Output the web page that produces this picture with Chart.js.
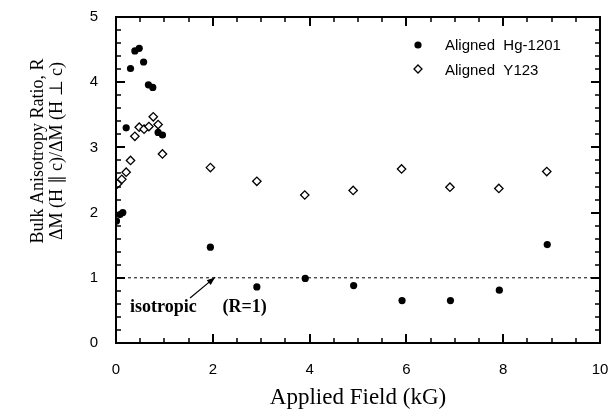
<!DOCTYPE html>
<html lang="en">
<head>
  <meta charset="UTF-8"/>
  <title>Bulk Anisotropy Ratio vs Applied Field</title>
  <script src="https://cdn.jsdelivr.net/npm/chart.js"></script>
  <style>
    * { box-sizing: border-box; margin: 0; padding: 0; }
    body { background: #fff; width: 611px; height: 409px; overflow: hidden; }
    #wrap { position: relative; width: 611px; height: 409px; }
  </style>
</head>
<body>
  <div id="wrap">
    <canvas id="chart" width="611" height="409"></canvas>
  </div>

  <script>
    // Aligned Hg-1201 (filled circles)
    const hgField = [0.01, 0.08, 0.14, 0.21, 0.30, 0.39, 0.48, 0.57, 0.67, 0.76, 0.87, 0.96, 1.95, 2.91, 3.91, 4.91, 5.91, 6.91, 7.92, 8.91];
    const hgRatio = [1.87, 1.97, 2.00, 3.30, 4.21, 4.48, 4.52, 4.31, 3.96, 3.92, 3.23, 3.19, 1.47, 0.86, 0.99, 0.88, 0.65, 0.65, 0.81, 1.51];

    // Aligned Y123 (open diamonds)
    const yField = [0.03, 0.12, 0.21, 0.30, 0.39, 0.48, 0.58, 0.68, 0.77, 0.87, 0.96, 1.95, 2.91, 3.90, 4.90, 5.90, 6.90, 7.91, 8.90];
    const yRatio = [2.44, 2.51, 2.62, 2.80, 3.17, 3.31, 3.28, 3.32, 3.47, 3.35, 2.90, 2.69, 2.48, 2.27, 2.34, 2.67, 2.39, 2.37, 2.63];

    // isotropic reference line
    const isoField = [0, 10];
    const isoRatio = [1, 1];

    const xTicks = [0, 2, 4, 6, 8, 10];
    const yTicks = [0, 1, 2, 3, 4, 5];
    const seriesNames = ['Aligned  Hg-1201', 'Aligned  Y123'];

    const toPoints = (xs, ys) => xs.map((x, i) => ({ x: x, y: ys[i] }));

    const sans = "'Liberation Sans', Arial, sans-serif";
    const serif = "'Liberation Serif', 'Times New Roman', serif";

    // frame + inward ticks on all four sides
    const frame = {
      id: 'frame',
      afterDatasetsDraw(chart) {
        const ctx = chart.ctx;
        const a = chart.chartArea;
        const xs = chart.scales.x, ys = chart.scales.y;
        const L = Math.round(a.left), R = Math.round(a.right);
        const T = Math.round(a.top), B = Math.round(a.bottom);
        ctx.save();
        ctx.setLineDash([]);
        ctx.fillStyle = '#000';
        for (let i = 0; i <= 20; i++) {
          const px = Math.round(xs.getPixelForValue(i * 0.5));
          const major = i % 4 === 0;
          const len = major ? 9 : 5, w = major ? 2 : 1.5;
          ctx.fillRect(px - w / 2, B - len, w, len);
          ctx.fillRect(px - w / 2, T, w, len);
        }
        for (let i = 0; i <= 25; i++) {
          const py = Math.round(ys.getPixelForValue(i * 0.2));
          const major = i % 5 === 0;
          const len = major ? 9 : 5, w = major ? 2 : 1.5;
          ctx.fillRect(L, py - w / 2, len, w);
          ctx.fillRect(R - len, py - w / 2, len, w);
        }
        ctx.fillRect(L - 1, T - 1, R - L + 2, 2);
        ctx.fillRect(L - 1, B - 1, R - L + 2, 2);
        ctx.fillRect(L - 1, T - 1, 2, B - T + 2);
        ctx.fillRect(R - 1, T - 1, 2, B - T + 2);
        ctx.restore();
      }
    };

    // legend, annotation and the two-line y title
    const decorations = {
      id: 'decorations',
      afterDraw(chart) {
        const ctx = chart.ctx;
        const xs = chart.scales.x, ys = chart.scales.y;
        ctx.save();
        ctx.setLineDash([]);
        ctx.strokeStyle = '#000';
        ctx.fillStyle = '#000';

        // legend
        ctx.font = '15px ' + sans;
        ctx.textBaseline = 'middle';
        ctx.textAlign = 'left';
        ctx.beginPath();
        ctx.arc(418, 45, 3.6, 0, Math.PI * 2);
        ctx.fill();
        ctx.fillText(seriesNames[0], 445, 46);
        ctx.lineWidth = 1.3;
        ctx.beginPath();
        ctx.moveTo(418, 65); ctx.lineTo(422, 69); ctx.lineTo(418, 73); ctx.lineTo(414, 69);
        ctx.closePath();
        ctx.stroke();
        ctx.fillText(seriesNames[1], 445, 71);

        // arrow to the R = 1 line
        const x0 = xs.getPixelForValue(1.53), y0 = ys.getPixelForValue(0.69);
        const x1 = xs.getPixelForValue(2.05), y1 = ys.getPixelForValue(1.01);
        ctx.lineWidth = 1.2;
        ctx.beginPath();
        ctx.moveTo(x0, y0); ctx.lineTo(x1, y1);
        ctx.stroke();
        const ang = Math.atan2(y1 - y0, x1 - x0);
        ctx.beginPath();
        ctx.moveTo(x1, y1);
        ctx.lineTo(x1 - 9 * Math.cos(ang - 0.35), y1 - 9 * Math.sin(ang - 0.35));
        ctx.lineTo(x1 - 9 * Math.cos(ang + 0.35), y1 - 9 * Math.sin(ang + 0.35));
        ctx.closePath();
        ctx.fill();

        ctx.font = 'bold 18px ' + serif;
        ctx.textBaseline = 'alphabetic';
        ctx.fillText('isotropic', xs.getPixelForValue(0.29), ys.getPixelForValue(0.47));
        ctx.fillText('(R=1)', xs.getPixelForValue(2.20), ys.getPixelForValue(0.47));

        // y axis title
        ctx.font = '18px ' + serif;
        ctx.textAlign = 'center';
        ctx.textBaseline = 'middle';
        ctx.translate(38, 151);
        ctx.rotate(-Math.PI / 2);
        ctx.fillText('Bulk Anisotropy Ratio, R', 0, 0);
        ctx.fillText('\u0394M (H \u2225 c)/\u0394M (H \u22A5 c)', 0, 19);
        ctx.restore();
      }
    };

    new Chart(document.getElementById('chart'), {
      type: 'scatter',
      data: {
        datasets: [
          {
            label: seriesNames[0],
            data: toPoints(hgField, hgRatio),
            pointStyle: 'circle',
            pointRadius: 3.6,
            backgroundColor: '#000',
            borderColor: '#000',
            borderWidth: 0
          },
          {
            label: seriesNames[1],
            data: toPoints(yField, yRatio),
            pointStyle: 'rectRot',
            pointRadius: 4.2,
            backgroundColor: '#fff',
            borderColor: '#000',
            borderWidth: 1.3
          },
          {
            label: 'isotropic',
            type: 'line',
            data: toPoints(isoField, isoRatio),
            borderColor: '#000',
            borderWidth: 1,
            borderDash: [3, 3],
            pointRadius: 0,
            fill: false
          }
        ]
      },
      options: {
        responsive: false,
        animation: false,
        layout: { padding: { top: 17, right: 11, left: 0, bottom: 0 } },
        plugins: {
          legend: { display: false },
          tooltip: { enabled: false }
        },
        scales: {
          x: {
            type: 'linear',
            min: 0, max: 10,
            afterBuildTicks: s => { s.ticks = xTicks.map(v => ({ value: v })); },
            afterFit: s => { s.height = 66; s.paddingLeft = 0; s.paddingRight = 0; },
            grid: { display: false, drawTicks: false },
            border: { display: false },
            ticks: { color: '#000', font: { family: sans, size: 15 }, padding: 18, maxRotation: 0 },
            title: { display: true, text: 'Applied Field (kG)', color: '#000', font: { family: serif, size: 23, lineHeight: 0.95 }, padding: { top: 9, bottom: 0 } }
          },
          y: {
            type: 'linear',
            min: 0, max: 5,
            afterBuildTicks: s => { s.ticks = yTicks.map(v => ({ value: v })); },
            afterFit: s => { s.width = 116; s.paddingTop = 0; s.paddingBottom = 0; },
            grid: { display: false, drawTicks: false },
            border: { display: false },
            ticks: { color: '#000', font: { family: sans, size: 15 }, padding: 18 }
          }
        }
      },
      plugins: [frame, decorations]
    });
  </script>
</body>
</html>
